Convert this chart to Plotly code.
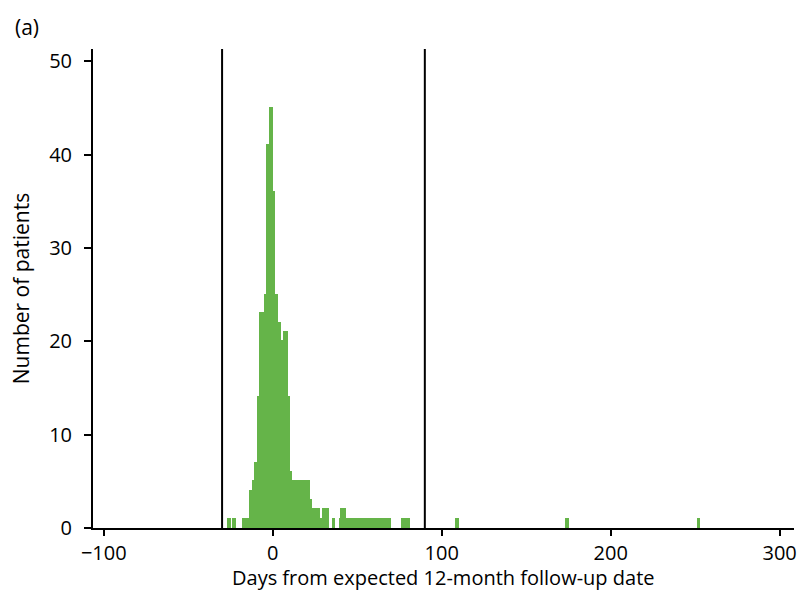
import plotly.graph_objects as go

# Days from the expected 12-month follow-up date (only days with at least one patient)
days = [
    -26, -23, -17, -16, -15, -14, -13, -12, -11, -10, -9, -8, -7, -6, -5, -4,
    -3, -2, -1, 0, 1, 2, 3, 4, 5, 6, 7, 8, 9, 10, 11, 12, 13, 14, 15, 16,
    17, 18, 19, 20, 21, 22, 24, 25, 26, 27, 28, 29, 30, 31, 32, 36, 40, 41,
    42, 43, 44, 45, 46, 48, 49, 50, 51, 52, 53, 54, 56, 57, 58, 59, 60, 61,
    62, 64, 65, 67, 69, 77, 78, 80, 109, 174, 252,
]
# Number of patients followed up on each of those days
patients = [
    1, 1, 1, 1, 1, 1, 4, 4, 5, 7, 7, 14, 23, 23, 18, 25,
    41, 41, 45, 36, 25, 25, 22, 22, 20, 20, 21, 21, 14, 6, 5, 5, 3, 5, 5, 5,
    2, 5, 5, 5, 5, 3, 2, 2, 2, 2, 1, 1, 2, 2, 2, 1, 1, 2,
    2, 1, 1, 1, 1, 1, 1, 1, 1, 1, 1, 1, 1, 1, 1, 1, 1, 1,
    1, 1, 1, 1, 1, 1, 1, 1, 1, 1, 1,
]

# Follow-up window limits
window = [-30, 90]

x_ticks = [-100, 0, 100, 200, 300]
y_ticks = [0, 10, 20, 30, 40, 50]

GREEN = "#65b449"
FONT = "Open Sans"
SIZE = 21
TICK_SIZE = 20

MARGIN = dict(l=93, r=6, t=49, b=64, pad=0)
PLOT_W = 803 - MARGIN["l"] - MARGIN["r"]
PLOT_H = 592 - MARGIN["t"] - MARGIN["b"]

fig = go.Figure()
fig.add_trace(go.Bar(
    x=days,
    y=patients,
    width=1,
    marker=dict(color=GREEN, line=dict(color=GREEN, width=2)),
    showlegend=False,
    hoverinfo="x+y",
))

for d in window:
    fig.add_shape(type="line", xref="x", yref="paper", x0=d, x1=d, y0=0, y1=1,
                  line=dict(color="black", width=2))

# Panel label
fig.add_annotation(text="(a)", xref="paper", yref="paper",
                   x=-80 / PLOT_W, y=1 + 22 / PLOT_H, xanchor="left", yanchor="middle",
                   showarrow=False, font=dict(family=FONT, size=SIZE, color="black"))

# x-axis title, sitting at the bottom edge under the tick labels
fig.add_annotation(text="Days from expected 12-month follow-up date",
                   xref="paper", yref="paper", x=0.5, y=-MARGIN["b"] / PLOT_H,
                   xanchor="center", yanchor="bottom", showarrow=False, borderpad=0,
                   font=dict(family=FONT, size=20, color="black"))

fig.update_layout(
    width=803, height=592,
    margin=MARGIN,
    paper_bgcolor="white", plot_bgcolor="white",
    bargap=0,
    font=dict(family=FONT, size=SIZE, color="black"),
    xaxis=dict(
        range=[-106.4, 308.5],
        tickvals=x_ticks,
        ticks="outside", ticklen=6, tickwidth=2, tickcolor="black",
        showline=True, linecolor="black", linewidth=2,
        showgrid=False, zeroline=False,
        tickfont=dict(family=FONT, size=TICK_SIZE),
        ticklabelstandoff=0,
    ),
    yaxis=dict(
        range=[0, 51.3],
        tickvals=y_ticks,
        ticks="outside", ticklen=7, tickwidth=2, tickcolor="black",
        showline=True, linecolor="black", linewidth=2,
        showgrid=False, zeroline=False,
        title=dict(text="Number of patients", standoff=14,
                   font=dict(family=FONT, size=SIZE)),
        tickfont=dict(family=FONT, size=TICK_SIZE),
        ticklabelstandoff=8,
    ),
)

fig.write_html("out.html")
